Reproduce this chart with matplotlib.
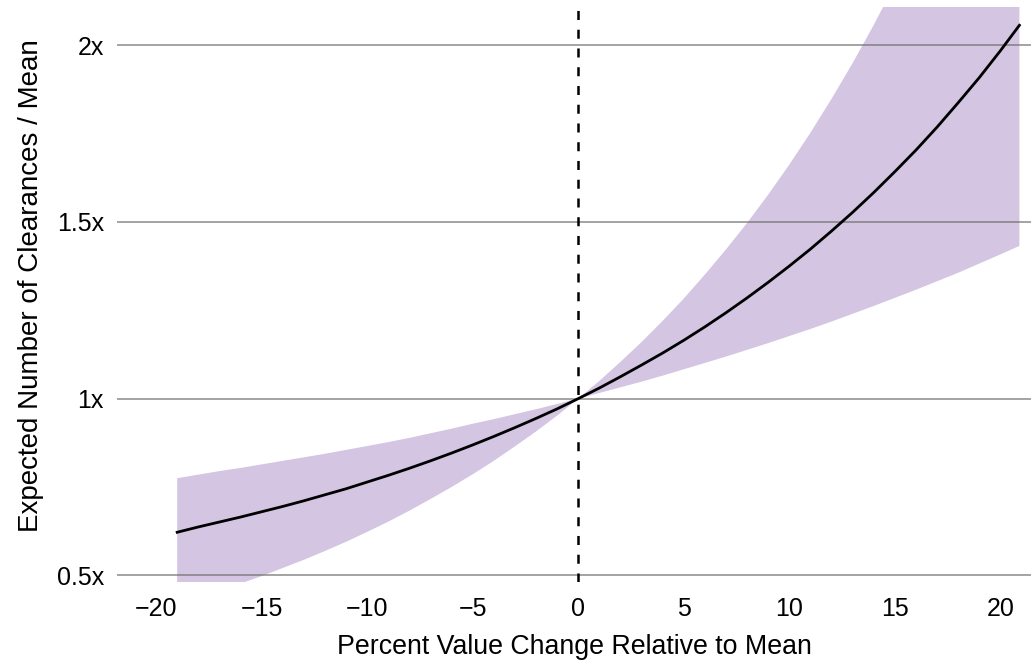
import numpy as np
import matplotlib
matplotlib.use("Agg")
import matplotlib.pyplot as plt

plt.rcParams['font.family'] = ['Liberation Sans', 'DejaVu Sans']
plt.rcParams['lines.scale_dashes'] = False

#-------------------------------------------------------------------------------
# DATA
pct_change = [-19, -18, -17, -16, -15, -14, -13, -12, -11, -10,
              -9, -8, -7, -6, -5, -4, -3, -2, -1, 0,
              1, 2, 3, 4, 5, 6, 7, 8, 9, 10,
              11, 12, 13, 14, 15, 16, 17, 18, 19, 20, 20.9]
expected = [0.622, 0.637, 0.651, 0.665, 0.680, 0.695, 0.711, 0.728, 0.745, 0.764,
            0.783, 0.803, 0.824, 0.846, 0.869, 0.893, 0.918, 0.944, 0.971, 1.000,
            1.030, 1.062, 1.095, 1.129, 1.165, 1.203, 1.243, 1.285, 1.329, 1.375,
            1.423, 1.474, 1.527, 1.583, 1.642, 1.703, 1.768, 1.837, 1.908, 1.984, 2.056]
band_hi = [0.775, 0.785, 0.795, 0.804, 0.814, 0.824, 0.834, 0.844, 0.855, 0.866,
           0.877, 0.889, 0.902, 0.915, 0.929, 0.942, 0.956, 0.970, 0.985, 1.000,
           1.050, 1.104, 1.160, 1.220, 1.283, 1.351, 1.422, 1.497, 1.577, 1.662,
           1.752, 1.848, 1.949, 2.057, 2.172, 2.294, 2.423, 2.561, 2.707, 2.863, 3.010]
band_lo = [0.419, 0.437, 0.457, 0.477, 0.498, 0.521, 0.544, 0.569, 0.595, 0.623,
           0.652, 0.683, 0.716, 0.750, 0.786, 0.824, 0.865, 0.907, 0.952, 1.000,
           1.016, 1.032, 1.048, 1.065, 1.083, 1.101, 1.119, 1.138, 1.157, 1.177,
           1.197, 1.218, 1.240, 1.262, 1.285, 1.308, 1.332, 1.356, 1.382, 1.408, 1.432]

y_ticks = [0.5, 1.0, 1.5, 2.0]
y_ticklabels = ["0.5x", "1x", "1.5x", "2x"]
x_ticks = [-20, -15, -10, -5, 0, 5, 10, 15, 20]

#-------------------------------------------------------------------------------
# PLOT
fig = plt.figure(figsize=(10.31, 6.6), dpi=100)
ax = fig.add_axes([0.1135, 0.118, 0.8865, 0.871])

ax.fill_between(pct_change, band_lo, band_hi, color="#d4c5e2", lw=0, zorder=1)
for yv in y_ticks:
    ax.axhline(yv, color="#6e6e6e", lw=1.1, alpha=0.8, zorder=2)
ax.plot(pct_change, expected, color="black", lw=2.0, zorder=3)
ax.axvline(0, color="black", lw=1.8, dashes=(6.5, 7.0), zorder=4)

ax.set_xlim(-21.85, 21.45)
ax.set_ylim(0.481, 2.107)
ax.set_yticks(y_ticks)
ax.set_yticklabels(y_ticklabels)
ax.set_xticks(x_ticks)

for s in ax.spines.values():
    s.set_visible(False)
ax.tick_params(axis="both", length=0, labelsize=18)
ax.tick_params(axis="y", pad=9.5)
ax.tick_params(axis="x", pad=11)

ax.set_xlabel("Percent Value Change Relative to Mean", fontsize=19.3, labelpad=9)
ax.set_ylabel("Expected Number of Clearances / Mean", fontsize=20)
ax.yaxis.set_label_coords(-0.08, 0.515)

plt.savefig("out.png", dpi=100)
plt.close()
